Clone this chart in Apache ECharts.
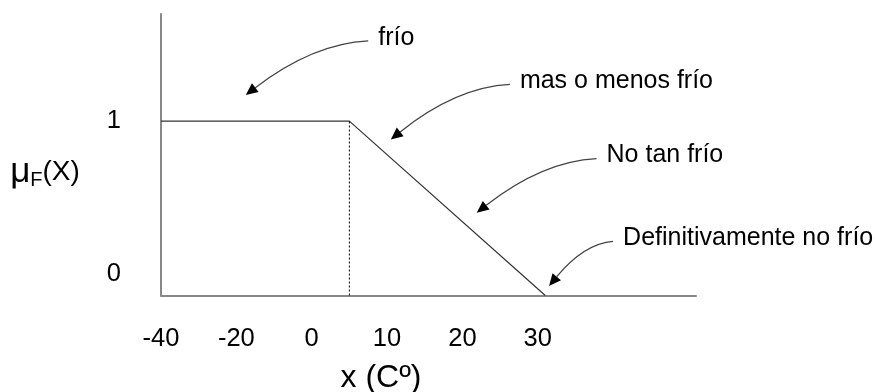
<!DOCTYPE html>
<html>
<head>
<meta charset="utf-8">
<script src="https://cdn.jsdelivr.net/npm/echarts@6/dist/echarts.min.js"></script>
<style>
  html, body { margin: 0; padding: 0; background: #fff; }
  #chart { width: 875px; height: 392px; }
</style>
</head>
<body>
<div id="chart"></div>
<script>
// Temperature tick labels (°C); the ticks sit at equal spacing along the axis
const xTicks = [-40, -20, 0, 10, 20, 30];
const yTicks = [0, 1];

// Membership function of "frío": plateau at 1, then a linear fall to 0
const membershipX = [-40, 5, 31];
const membershipY = [1, 1, 0];

// Dotted guide at the end of the plateau
const guideX = [5, 5];
const guideY = [0, 1];

// Annotations: label, arrow start (x, μ) and arrow tip (x, μ)
const noteLabels = ['frío', 'mas o menos frío', 'No tan frío', 'Definitivamente no frío'];
const noteFromX = [7.5, 26.3, 37.8, 40];
const noteFromY = [1.46, 1.21, 0.785, 0.31];
const noteToX = [-17.5, 10.5, 21.9, 31.5];
const noteToY = [1.15, 0.895, 0.475, 0.055];

const FONT = '"Liberation Sans", Arial, sans-serif';

// Map a temperature onto the tick index scale (piecewise linear between ticks)
function tickPos(v) {
  const n = xTicks.length;
  for (let i = 0; i < n - 1; i++) {
    if (v <= xTicks[i + 1] || i === n - 2) {
      return i + (v - xTicks[i]) / (xTicks[i + 1] - xTicks[i]);
    }
  }
}

const chart = echarts.init(document.getElementById('chart'), null, { renderer: 'canvas' });

chart.setOption({
  animation: false,
  backgroundColor: '#fff',
  grid: { left: 161, right: 179, top: 14, bottom: 96.5, containLabel: false },
  xAxis: {
    type: 'value',
    min: 0,
    max: 7.1,
    interval: 1,
    axisLine: { lineStyle: { color: '#888', width: 2 } },
    axisTick: { show: false },
    splitLine: { show: false },
    axisLabel: {
      margin: 30,
      fontSize: 25.5,
      fontFamily: FONT,
      color: '#000',
      formatter: function (v) {
        const i = Math.round(v);
        if (Math.abs(v - i) > 1e-6 || i < 0 || i >= xTicks.length) return '';
        return String(xTicks[i]);
      }
    }
  },
  yAxis: {
    type: 'value',
    min: 0,
    max: 1.614,
    interval: 1,
    axisLine: { show: true, lineStyle: { color: '#888', width: 2 } },
    axisTick: { show: false },
    splitLine: { show: false },
    axisLabel: {
      margin: 40,
      formatter: function (v) {
        if (v === yTicks[0]) return '{z|' + yTicks[0] + '}';
        if (v === yTicks[1]) return '{o|' + yTicks[1] + '}';
        return '';
      },
      rich: {
        z: { fontSize: 25.5, fontFamily: FONT, color: '#000', padding: [0, 0, 44, 0] },
        o: { fontSize: 25.5, fontFamily: FONT, color: '#000' }
      }
    }
  },
  graphic: [
    {
      type: 'text',
      x: 381,
      y: 378,
      style: {
        text: 'x (Cº)',
        font: '32px ' + FONT,
        fill: '#000',
        align: 'center',
        verticalAlign: 'middle'
      }
    },
    {
      type: 'text',
      x: 45,
      y: 172,
      style: {
        text: '{m|μ}{s|F}{p|(X)}',
        align: 'center',
        verticalAlign: 'middle',
        rich: {
          m: { fontSize: 35, fontFamily: FONT, fill: '#000' },
          s: { fontSize: 20, fontFamily: FONT, fill: '#000', padding: [16, 0, 0, 0] },
          p: { fontSize: 28, fontFamily: FONT, fill: '#000' }
        }
      }
    }
  ],
  series: [
    {
      name: 'frío',
      type: 'line',
      symbol: 'none',
      silent: true,
      lineStyle: { color: '#333', width: 1.2 },
      data: membershipX.map((x, i) => [tickPos(x), membershipY[i]])
    },
    {
      name: 'guía',
      type: 'line',
      symbol: 'none',
      silent: true,
      lineStyle: { color: '#000', width: 1, type: [2, 2] },
      data: guideX.map((x, i) => [tickPos(x), guideY[i]])
    },
    {
      name: 'notas',
      type: 'custom',
      silent: true,
      clip: false,
      data: noteLabels.map((t, i) => [tickPos(noteFromX[i]), noteFromY[i], tickPos(noteToX[i]), noteToY[i]]),
      renderItem: function (params, api) {
        const p0 = api.coord([api.value(0), api.value(1)]);
        const p2 = api.coord([api.value(2), api.value(3)]);
        // control point near the start so the arrow leaves the label almost horizontally
        const cp = [p0[0] + (p2[0] - p0[0]) * 0.45, p0[1] + (p2[1] - p0[1]) * 0.05];
        let dx = p2[0] - cp[0], dy = p2[1] - cp[1];
        const len = Math.hypot(dx, dy);
        dx /= len; dy /= len;
        const L = 12, W = 5.5;
        const base = [p2[0] - dx * L, p2[1] - dy * L];
        const head = [
          [p2[0], p2[1]],
          [base[0] - dy * W, base[1] + dx * W],
          [base[0] + dy * W, base[1] - dx * W]
        ];
        return {
          type: 'group',
          children: [
            {
              type: 'bezierCurve',
              shape: { x1: p0[0], y1: p0[1], x2: base[0], y2: base[1], cpx1: cp[0], cpy1: cp[1] },
              style: { stroke: '#444', lineWidth: 1.3, fill: null }
            },
            {
              type: 'polygon',
              shape: { points: head },
              style: { fill: '#000' }
            },
            {
              type: 'text',
              x: p0[0] + 10,
              y: p0[1] - 3,
              style: {
                text: noteLabels[params.dataIndex],
                font: '25px ' + FONT,
                fill: '#000',
                align: 'left',
                verticalAlign: 'middle'
              }
            }
          ]
        };
      }
    }
  ]
});
</script>
</body>
</html>
